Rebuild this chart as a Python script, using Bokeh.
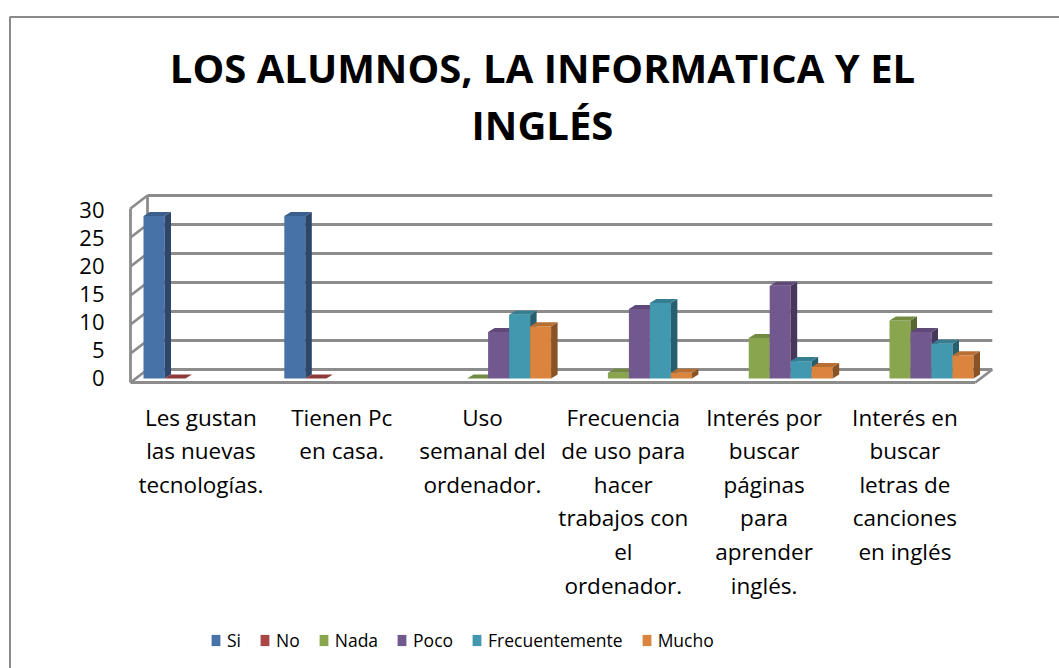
from bokeh.plotting import figure
from bokeh.models import Range1d, ColumnDataSource, Legend, LegendItem
from bokeh.core.properties import value
from bokeh.embed import file_html
from bokeh.resources import INLINE

# ---------------- data ----------------
title_lines = ["LOS ALUMNOS, LA INFORMATICA Y EL", "INGLÉS"]
categories = [
    "Les gustan\nlas nuevas\ntecnologías.",
    "Tienen Pc\nen casa.",
    "Uso\nsemanal del\nordenador.",
    "Frecuencia\nde uso para\nhacer\ntrabajos con\nel\nordenador.",
    "Interés por\nbuscar\npáginas\npara\naprender\ninglés.",
    "Interés en\nbuscar\nletras de\ncanciones\nen inglés",
]
series_names = ["Si", "No", "Nada", "Poco", "Frecuentemente", "Mucho"]
si = [28, 28, None, None, None, None]
no = [0, 0, None, None, None, None]
nada = [None, None, 0, 1, 7, 10]
poco = [None, None, 8, 12, 16, 8]
frec = [None, None, 11, 13, 3, 6]
mucho = [None, None, 9, 1, 2, 4]
series_values = [si, no, nada, poco, frec, mucho]
y_ticks = [0, 5, 10, 15, 20, 25, 30]

front_colors = ["#4672A8", "#AA4643", "#89A54E", "#71588F", "#4198AF", "#DB843D"]


def shade(hex_color, f):
    h = hex_color.lstrip("#")
    r, g, b = (int(h[i:i + 2], 16) for i in (0, 2, 4))
    return "#%02x%02x%02x" % (int(r * f), int(g * f), int(b * f))


side_colors = [shade(c, 0.63) for c in front_colors]
top_colors = [shade(c, 0.84) for c in front_colors]

# ---------------- layout (page pixel geometry) ----------------
W, H = 1059, 668
PX_CAT = 140.8   # pixels per category
PX_VAL = 5.8     # pixels per value unit
X0_PAGE = 130.0  # page x of category axis start
Y0_PAGE = 378.0  # page y of value 0 (bar bottoms)


def px2x(px):
    return (px - X0_PAGE) / PX_CAT


def py2y(py):
    return (Y0_PAGE - py) / PX_VAL


p = figure(width=W, height=H, output_backend="svg", toolbar_location=None,
           x_range=Range1d(px2x(0), px2x(W)),
           y_range=Range1d(py2y(H), py2y(0)),
           x_axis_location=None, y_axis_location=None, min_border=0)
p.grid.visible = False
p.outline_line_color = None
p.background_fill_color = "white"
p.border_fill_color = "white"

# outer chart border (top + left visible)
p.quad(left=[px2x(9.5)], right=[px2x(1200)], top=[py2y(16.5)], bottom=[py2y(800)],
       fill_color=None, line_color="#8a8a8a", line_width=2)

# ---------------- 3D walls ----------------
ncat = len(categories)
wall_dx = 17 / PX_CAT
front_off = -4 / PX_VAL   # front plane offset (page 382 at value 0)
back_off = 9 / PX_VAL     # back plane offset (page 369 at value 0)
vmax = y_ticks[-1]

gx0, gy0, gx1, gy1 = [], [], [], []
for v in y_ticks:
    gx0.append(wall_dx); gy0.append(v + back_off)
    gx1.append(ncat + wall_dx); gy1.append(v + back_off)
    gx0.append(0); gy0.append(v + front_off)
    gx1.append(wall_dx); gy1.append(v + back_off)
gx0 += [0, wall_dx]; gy0 += [front_off, back_off]
gx1 += [0, wall_dx]; gy1 += [vmax + front_off, vmax + back_off]
gx0 += [0, ncat]; gy0 += [front_off, front_off]
gx1 += [ncat, ncat + wall_dx]; gy1 += [front_off, back_off]
p.segment(x0=gx0, y0=gy0, x1=gx1, y1=gy1, line_color="#8c8c8c", line_width=2.8)

# ---------------- bars ----------------
group_off = 13 / PX_CAT
bar_w = 21 / PX_CAT
ddx = 6.5 / PX_CAT
ddy = 4 / PX_VAL

legend_items = []
for s, (name, vals) in enumerate(zip(series_names, series_values)):
    L, R, T = [], [], []
    sx, sy, tx, ty = [], [], [], []
    for i, v in enumerate(vals):
        if v is None:
            continue
        left = i + group_off + s * bar_w
        right = left + bar_w
        L.append(left); R.append(right); T.append(v)
        sx.append([right, right + ddx, right + ddx, right])
        sy.append([0, ddy, v + ddy, v])
        tx.append([left, left + ddx, right + ddx, right])
        ty.append([v, v + ddy, v + ddy, v])
    src = ColumnDataSource(dict(left=L, right=R, top=T, bottom=[0] * len(L)))
    r = p.quad(left="left", right="right", top="top", bottom="bottom", source=src,
               fill_color=front_colors[s], line_color=None)
    p.patches(xs=sx, ys=sy, fill_color=side_colors[s], line_color=None)
    p.patches(xs=tx, ys=ty, fill_color=top_colors[s], line_color=None)
    legend_items.append(LegendItem(label=name, renderers=[r]))

# ---------------- y tick labels ----------------
ylab_y = [py2y(377.5 - v * 5.6) for v in y_ticks]
p.text(x=[px2x(104)] * len(y_ticks), y=ylab_y, text=[str(v) for v in y_ticks],
       text_align="right", text_baseline="alphabetic",
       text_font=value("Open Sans"), text_font_size="22px", text_color="#000000")

# ---------------- category labels ----------------
cx, cy, ct = [], [], []
for i, lab in enumerate(categories):
    for k, line in enumerate(lab.split("\n")):
        cx.append(i + 0.5)
        cy.append(py2y(416.5 + k * 33.6))
        ct.append(line)
p.text(x=cx, y=cy, text=ct, text_align="center", text_baseline="alphabetic",
       text_font=value("Open Sans"), text_font_size="22.5px", text_color="#000000")

# ---------------- title ----------------
p.text(x=[px2x(542)] * 2, y=[py2y(67), py2y(124)], text=title_lines,
       text_align="center", text_baseline="alphabetic",
       text_font=value("Open Sans"), text_font_style="bold",
       text_font_size="40px", text_color="#000000")

# ---------------- legend ----------------
legend = Legend(items=legend_items, orientation="horizontal", location=(210, 16),
                glyph_width=11, glyph_height=14, label_standoff=6, spacing=18,
                padding=0, margin=0, border_line_color=None,
                background_fill_alpha=0, label_width=0,
                label_text_font="Open Sans", label_text_font_size="17.5px",
                label_text_color="#000000", label_height=22)
p.add_layout(legend, "center")

open("out.html", "w").write(file_html(p, INLINE))
